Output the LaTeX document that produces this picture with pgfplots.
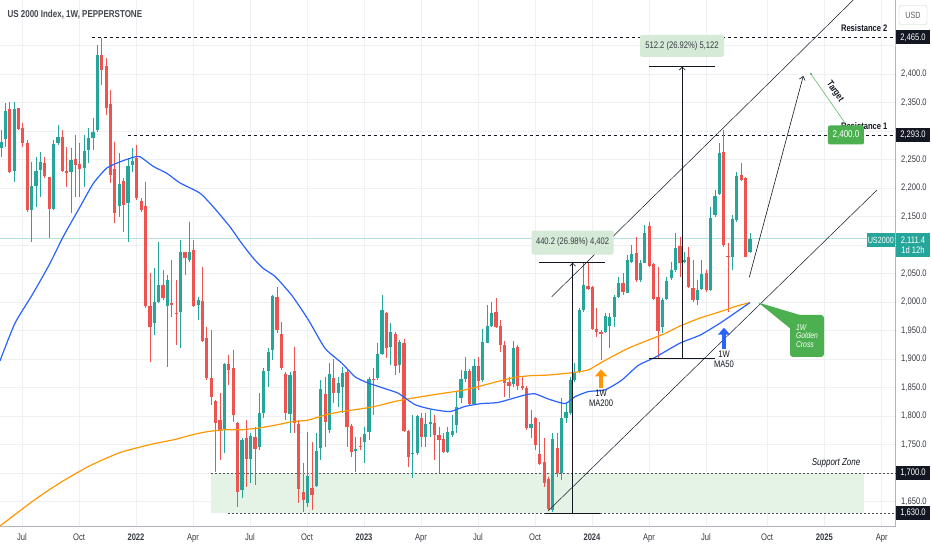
\documentclass[border=0pt]{standalone}
\usepackage{fontspec}
\setmainfont{Liberation Sans}[FakeStretch=0.8]
\usepackage{pgfplots}
\pgfplotsset{compat=1.18}
\usepackage{pgfplotstable}
\usetikzlibrary{arrows.meta}
\definecolor{tvup}{HTML}{26A69A}
\definecolor{tvdn}{HTML}{EF5350}
\definecolor{maf}{HTML}{2962FF}
\definecolor{mas}{HTML}{FF9800}
\definecolor{cgreen}{HTML}{4CAF50}
\definecolor{gridc}{HTML}{EEF0F4}
\definecolor{txt}{HTML}{131722}
\definecolor{zone}{HTML}{E5F3E6}
\definecolor{mbox}{HTML}{D5EAD7}
\definecolor{axc}{HTML}{B2B5BE}

\pgfplotstableread{
i O H L C
0 2269.7 2301.9 2255.1 2281.4
1 2286.1 2348.7 2272.7 2335.2
3 2230.6 2351.6 2211.3 2338.1
7 2161.6 2246.3 2106.0 2204.2
8 2204.2 2255.1 2167.4 2230.0
9 2231.7 2263.9 2185.0 2245.2
12 2163.3 2284.3 2161.6 2277.3
13 2278.5 2310.7 2275.6 2289.0
16 2228.8 2269.7 2155.7 2249.3
19 2234.7 2293.1 2202.5 2265.6
20 2266.8 2304.8 2243.4 2287.3
21 2287.3 2322.4 2266.8 2299.0
22 2301.9 2451.0 2299.0 2433.4
27 2168.6 2261.0 2149.9 2207.2
29 2173.3 2252.2 2106.0 2238.7
30 2240.5 2269.7 2228.8 2247.5
35 1963.9 2059.2 1942.3 2000.8
36 2000.8 2106.0 1997.8 2030.0
38 1993.2 2047.5 1886.8 2038.8
41 1982.0 2108.9 1918.9 2088.5
43 2073.8 2141.1 2070.9 2088.5
45 1994.9 2009.5 1968.6 2003.7
51 1777.4 1892.6 1734.7 1890.8
55 1670.4 1761.0 1655.8 1758.1
57 1724.2 1769.8 1682.1 1765.1
59 1746.4 1840.0 1740.6 1804.9
60 1804.9 1883.8 1796.1 1879.7
61 1879.7 1918.9 1851.7 1911.9
62 1916.0 2012.4 1898.4 2010.7
66 1803.1 1878.0 1769.8 1872.1
70 1647.0 1772.7 1641.2 1694.9
72 1677.4 1769.8 1676.2 1739.4
73 1743.5 1863.3 1723.0 1847.0
75 1775.6 1892.6 1769.8 1873.9
77 1841.1 1869.2 1816.6 1858.7
78 1851.7 1886.7 1804.9 1876.2
81 1739.4 1763.9 1702.6 1741.7
83 1755.2 1781.5 1717.2 1768.6
84 1771.5 1869.2 1758.1 1864.5
86 1866.3 1927.7 1863.4 1909.0
87 1909.0 2012.5 1907.2 1986.2
89 1920.7 1962.8 1889.7 1947.0
91 1889.7 1933.6 1875.1 1930.6
94 1734.8 1802.0 1690.9 1735.9
95 1734.8 1802.0 1731.8 1800.2
97 1764.0 1806.1 1746.5 1786.2
98 1786.2 1810.8 1764.0 1790.3
102 1737.7 1781.5 1734.8 1772.8
103 1766.9 1802.0 1764.0 1774.5
104 1784.5 1842.9 1769.8 1816.6
105 1831.2 1880.9 1822.5 1864.6
106 1864.6 1904.3 1860.5 1879.8
108 1821.3 1899.6 1819.5 1887.9
110 1863.4 1952.3 1860.5 1930.6
111 1928.9 1995.0 1927.7 1958.7
112 1958.7 2000.8 1957.0 1980.3
117 1856.4 1931.8 1850.5 1918.9
121 1778.6 1810.8 1761.1 1786.2
126 1635.4 1769.8 1632.4 1759.3
128 1699.7 1831.2 1688.0 1796.2
129 1796.2 1822.5 1787.4 1807.8
130 1806.1 1869.2 1802.0 1863.4
131 1863.4 1892.6 1860.5 1878.0
132 1878.0 1989.1 1875.1 1986.2
133 1986.2 2068.0 1983.2 2030.0
138 1948.2 1980.3 1945.3 1975.6
139 1958.0 1980.3 1918.9 1973.3
140 1973.3 2012.5 1956.9 2009.6
141 2009.6 2044.6 2006.6 2034.1
143 2016.6 2082.7 2015.4 2073.9
144 2071.0 2100.2 2068.0 2084.4
146 2038.8 2073.9 2035.9 2069.2
147 2069.2 2135.3 2068.0 2120.6
151 1956.9 2006.6 1945.2 2003.7
152 2004.9 2044.6 2003.7 2037.6
153 2041.7 2071.0 2038.8 2056.3
154 2056.3 2121.8 2053.4 2094.3
156 2071.0 2088.4 2068.0 2073.9
159 2003.7 2038.8 1994.9 2021.2
160 2022.4 2073.8 2021.2 2049.3
162 2021.2 2167.4 2020.1 2148.1
163 2152.8 2196.6 2149.8 2186.1
164 2189.6 2278.5 2187.8 2260.9
167 2079.7 2152.8 2056.3 2145.2
168 2144.0 2228.8 2141.1 2221.2
171 2088.4 2120.6 2085.5 2111.4
}\upcandles

\pgfplotstableread{
i O H L C
2 2338.1 2351.6 2225.9 2228.8
4 2339.9 2339.9 2301.9 2303.6
5 2306.0 2313.6 2272.7 2278.5
6 2278.5 2284.3 2158.6 2161.6
10 2244.6 2255.1 2217.1 2221.8
11 2220.0 2220.0 2111.9 2163.3
14 2289.0 2301.9 2228.8 2230.6
15 2230.6 2272.7 2202.5 2227.1
17 2250.4 2293.1 2185.0 2240.5
18 2241.7 2278.5 2185.0 2233.5
23 2433.4 2462.7 2380.8 2407.1
24 2414.2 2427.6 2328.2 2341.1
25 2347.5 2372.1 2208.3 2223.0
26 2232.9 2281.4 2139.3 2156.9
28 2212.4 2217.1 2123.6 2170.3
31 2253.4 2275.6 2179.1 2182.0
32 2177.3 2182.0 2158.0 2161.6
33 2169.2 2211.3 1989.1 1993.2
34 1993.2 2050.5 1895.5 1955.7
37 2030.0 2056.3 2003.7 2006.6
39 1997.8 2073.9 1974.5 1994.9
40 1981.5 2038.8 1924.8 1979.1
42 2087.3 2088.5 2047.5 2076.8
44 2091.4 2108.9 1990.8 1993.1
46 2001.9 2062.1 1930.6 1932.3
47 1936.4 1956.9 1863.3 1866.3
48 1866.3 1951.0 1819.5 1834.1
49 1826.5 1828.3 1702.6 1787.3
50 1793.2 1840.0 1723.0 1773.9
52 1890.8 1907.2 1854.6 1880.9
53 1883.8 1916.0 1790.3 1801.9
54 1788.5 1790.3 1641.2 1667.5
56 1761.0 1793.2 1676.2 1724.2
58 1764.0 1781.5 1679.2 1741.7
63 2008.4 2027.1 1945.2 1951.0
64 1944.0 1965.7 1880.9 1883.8
65 1873.9 1878.0 1793.2 1804.9
67 1879.7 1921.8 1769.8 1787.3
68 1786.2 1793.2 1647.0 1671.6
69 1667.5 1717.2 1632.4 1652.9
71 1673.3 1755.2 1635.3 1661.6
74 1838.8 1869.2 1746.4 1790.3
76 1866.3 1899.6 1822.4 1840.0
79 1878.0 1880.9 1746.4 1781.5
80 1782.7 1786.2 1728.9 1737.6
82 1747.6 1763.9 1740.6 1745.2
85 1865.1 1883.9 1802.0 1863.4
88 1981.5 1983.3 1901.4 1918.9
90 1944.1 1948.2 1872.2 1888.0
92 1928.9 1934.7 1772.8 1774.5
93 1774.5 1775.7 1711.4 1727.7
96 1796.2 1804.9 1746.5 1764.0
99 1787.4 1802.0 1723.1 1766.9
100 1766.9 1781.5 1700.8 1758.1
101 1760.5 1769.8 1734.8 1737.7
107 1879.8 1882.1 1819.5 1821.3
109 1887.9 1904.3 1845.8 1862.2
113 1982.1 2006.6 1954.0 1957.0
114 1958.1 1968.6 1913.1 1924.8
115 1924.8 1932.4 1834.2 1857.5
116 1860.5 1869.2 1831.2 1852.9
118 1921.9 1924.8 1845.8 1852.9
119 1852.9 1869.2 1845.8 1848.8
120 1848.8 1852.9 1775.7 1778.6
122 1796.2 1799.1 1740.6 1749.4
123 1733.6 1790.3 1714.3 1716.0
124 1720.1 1761.1 1676.3 1682.1
125 1689.2 1693.8 1635.4 1636.5
127 1743.5 1769.8 1693.8 1699.7
134 2028.3 2068.0 2021.3 2022.4
135 2025.9 2028.3 1951.1 1952.3
136 1952.3 1989.1 1939.4 1948.2
137 1948.2 1951.1 1898.5 1944.1
142 2034.1 2050.5 2012.5 2018.3
145 2085.6 2114.8 2035.9 2038.8
148 2134.1 2141.1 2062.2 2063.4
149 2066.9 2068.0 2003.7 2004.9
150 2008.4 2062.1 1902.0 1949.9
155 2098.4 2114.8 2044.6 2069.2
157 2079.7 2097.2 2024.1 2027.1
158 2024.1 2073.8 2000.7 2003.7
161 2051.6 2056.3 2018.3 2021.2
165 2263.9 2301.9 2097.2 2100.1
166 2080.8 2103.1 1983.2 2078.5
169 2222.9 2243.4 2213.0 2214.2
170 2217.1 2218.8 2078.5 2079.7
}\dncandles

\pgfplotsset{candle/.style={forget plot, only marks, mark=*, mark size=0pt,
  mark options={draw=none, fill=none}}}

\begin{document}
\begin{tikzpicture}
\path[use as bounding box, fill=white] (0pt,0pt) rectangle (932pt,550pt);
\begin{axis}[
  at={(0pt,24pt)}, anchor=south west, scale only axis,
  width=895.7pt, height=526pt,
  xmin=-0.228, xmax=204.27, ymin=1607.2, ymax=2529.9,
  enlargelimits=false, clip=false, scaled y ticks=false,
  axis x line*=bottom, axis y line*=right,
  axis line style={draw=axc, line width=0.8pt, -},
  xtick={4.79,17.81,30.82,43.84,56.85,69.86,82.88,95.89,108.9,121.92,134.93,147.95,160.96,174.89,187.97,201.07},
  xticklabels={Jul,Oct,\textbf{2022},Apr,Jul,Oct,\textbf{2023},Apr,Jul,Oct,\textbf{2024},Apr,Jul,Oct,\textbf{2025},Apr},
  ytick={1650,1750,1800,1850,1900,1950,2000,2050,2150,2200,2250,2350,2400},
  extra y ticks={1700,2100,2300,2450}, extra y tick labels={},
  extra y tick style={ymajorgrids},
  yticklabel pos=right,
  xmajorgrids, ymajorgrids,
  grid style={draw=gridc, line width=0.7pt},
  tick style={draw=none}, major tick length=0pt,
  xticklabel style={font=\fontsize{9.5}{10}\selectfont, text=txt!85, yshift=-4pt},
  yticklabel style={font=\fontsize{9.5}{10}\selectfont, text=txt!85, anchor=west, xshift=2pt},
  yticklabel={\pgfmathprintnumber[fixed, fixed zerofill, precision=1, 1000 sep={,}, assume math mode=true]{\tick}},
]
% current price line
\draw[tvup!35, line width=0.7pt] (axis cs:-0.228,2111.4) -- (axis cs:204.27,2111.4);
% support zone
\fill[zone] (axis cs:47.88,1630) rectangle (axis cs:197.03,1700);
\draw[txt!75, line width=0.9pt, dash pattern=on 2pt off 2pt] (axis cs:47.88,1700) -- (axis cs:204.27,1700);
\draw[txt!75, line width=0.9pt, dash pattern=on 2pt off 2pt] (axis cs:51.83,1630) -- (axis cs:204.27,1630);
% resistance lines
\draw[txt, line width=0.8pt, dash pattern=on 3pt off 3pt] (axis cs:20.78,2465) -- (axis cs:204.27,2465);
\draw[txt, line width=0.8pt, dash pattern=on 3pt off 3pt] (axis cs:28.93,2293) -- (axis cs:204.27,2293);

% candle wicks
\addplot[candle, error bars/.cd, y dir=minus, y explicit, error mark=none,
  error bar style={line width=0.8pt, draw=tvdn}]
  table[x=i, y=H, y error minus expr={\thisrow{H}-\thisrow{L}}] {\dncandles};
\addplot[candle, error bars/.cd, y dir=minus, y explicit, error mark=none,
  error bar style={line width=0.8pt, draw=tvup}]
  table[x=i, y=H, y error minus expr={\thisrow{H}-\thisrow{L}}] {\upcandles};
% candle bodies
\addplot[candle, error bars/.cd, y dir=minus, y explicit, error mark=none,
  error bar style={line width=3.2pt, draw=tvdn}]
  table[x=i, y=O, y error minus expr={max(\thisrow{O}-\thisrow{C},1.8)}] {\dncandles};
\addplot[candle, error bars/.cd, y dir=minus, y explicit, error mark=none,
  error bar style={line width=3.2pt, draw=tvup}]
  table[x=i, y=C, y error minus expr={max(\thisrow{C}-\thisrow{O},1.8)}] {\upcandles};

% MA200
\addplot[mas, line width=1.2pt, mark=none, smooth, tension=0.35] coordinates {
(-0.228,1607.2) (7.65,1653) (13.47,1683) (20.32,1713) (27.17,1736) (34.02,1750) (39.73,1759)
(43.54,1767) (47.33,1773) (51.14,1776) (54.95,1776) (58.74,1779) (62.56,1784) (66.37,1790)
(70.16,1793) (73.97,1802) (77.79,1808) (81.58,1812) (85.39,1817) (90.71,1827) (98.33,1837)
(105.94,1846) (113.54,1861) (117.35,1868) (121.16,1871) (124.95,1872) (130.30,1876) (134.09,1881)
(136.37,1891) (139.43,1904) (143.22,1919) (147.03,1931) (151.60,1945) (155.02,1958) (159.59,1972)
(164.16,1983) (167.97,1993) (171.00,1999)};
% MA50
\addplot[maf, line width=1.2pt, mark=none, smooth, tension=0.35] coordinates {
(-0.228,1897) (3.20,1963) (7.31,2015) (11.19,2068) (14.22,2115) (18.04,2167) (21.07,2208)
(24.13,2235) (27.17,2246) (30.21,2254) (31.74,2255) (34.77,2238) (37.83,2226) (40.87,2209)
(45.43,2191) (48.47,2167) (52.28,2132) (54.95,2103) (57.60,2077) (59.89,2059) (62.56,2045)
(66.37,2012) (70.16,1969) (73.97,1919) (77.79,1893) (80.82,1869) (83.49,1859) (86.92,1850)
(90.71,1840) (94.52,1820) (98.33,1812) (102.51,1808) (105.94,1817) (109.75,1822) (113.54,1824)
(119.63,1837) (121.92,1839) (124.95,1830) (128.77,1822) (131.05,1834) (134.09,1843) (137.90,1846)
(141.71,1863) (145.50,1889) (149.32,1903) (155.02,1928) (159.59,1942) (164.16,1963) (167.97,1983)
(171.00,1999)};

% channel lines
\draw[txt, line width=0.5pt] (axis cs:125.73,2009.4) -- (axis cs:194.59,2529.9);
\draw[txt, line width=0.5pt] (axis cs:124.89,1633.5) -- (axis cs:200.0,2196.6);

% labels for levels
\node[anchor=east, font=\bfseries\fontsize{9.5}{12}\selectfont, text=txt] at (axis cs:203.2,2481.1) {Resistance 2};
\node[anchor=east, font=\bfseries\fontsize{9.5}{12}\selectfont, text=txt] at (axis cs:203.2,2308.5) {Resistance 1};
\node[anchor=east, font=\itshape\fontsize{10}{12}\selectfont, text=txt] at (axis cs:197.0,1717.7) {Support Zone};

% measurement 1
\draw[txt, line width=0.6pt] (axis cs:122.9,2070.2) -- (axis cs:137.9,2070.2);
\draw[txt, line width=0.6pt] (axis cs:124.2,1630) -- (axis cs:136.8,1630);
\draw[txt, line width=0.6pt, -{Straight Barb[length=3pt,width=6pt]}] (axis cs:130.53,1630) -- (axis cs:130.53,2069);
\node[fill=mbox, rounded corners=2pt, minimum width=82pt, minimum height=24pt, inner sep=1pt,
  text=txt!85, font=\fontsize{9.5}{11}\selectfont] at (axis cs:130.5,2104.5) {440.2 (26.98\%) 4,402};
% measurement 2
\draw[txt, line width=0.6pt] (axis cs:147.95,2414.2) -- (axis cs:163.0,2414.2);
\draw[txt, line width=0.6pt] (axis cs:147.95,1902) -- (axis cs:163.0,1902);
\draw[txt, line width=0.6pt, -{Straight Barb[length=3pt,width=6pt]}] (axis cs:155.55,1902) -- (axis cs:155.55,2413);
\node[fill=mbox, rounded corners=2pt, minimum width=84pt, minimum height=22pt, inner sep=1pt,
  text=txt!85, font=\fontsize{9.5}{11}\selectfont] at (axis cs:155.48,2449.6) {512.2 (26.92\%) 5,122};

% MA200 arrow
\draw[mas, line width=4.5pt, -{Triangle[length=7pt,width=12pt]}] (axis cs:137.0,1849) -- (axis cs:137.0,1882);
\node[font=\fontsize{9.5}{10}\selectfont, text=txt] at (axis cs:137.0,1840.5) {1W};
\node[font=\fontsize{9.5}{10}\selectfont, text=txt] at (axis cs:137.0,1823.0) {MA200};
% MA50 arrow
\draw[maf, line width=4.5pt, -{Triangle[length=7pt,width=12pt]}] (axis cs:165.07,1917) -- (axis cs:165.07,1955);
\node[font=\fontsize{9.5}{10}\selectfont, text=txt] at (axis cs:165.07,1908.9) {1W};
\node[font=\fontsize{9.5}{10}\selectfont, text=txt] at (axis cs:165.07,1891.4) {MA50};

% golden cross callout
\fill[cgreen] (axis cs:172.9,1999.1) -- (axis cs:182.42,1977.3) -- (axis cs:180.14,1954.0) -- cycle;
\node[fill=cgreen, rounded corners=3pt, minimum width=34pt, minimum height=42pt, inner sep=1pt,
  text=white, align=left, font=\itshape\fontsize{8.5}{8.7}\selectfont] at (axis cs:184.02,1940.5) {1W\\Golden\\Cross};

% projection arrow
\draw[txt, line width=0.6pt, -{Straight Barb[length=3.5pt,width=6pt]}] (axis cs:170.84,2043.5) -- (axis cs:183.17,2396.6);
% target
\draw[cgreen!85, line width=0.6pt] (axis cs:184.93,2400.1) -- (axis cs:192.69,2314.1);
\fill[cgreen] (axis cs:184.93,2400.1) circle (1.2pt);
\node[rotate=-55.2, font=\bfseries\fontsize{9.5}{11}\selectfont, text=txt] at (axis cs:190.4,2369.0) {Target};
\node[fill=cgreen, rounded corners=2pt, minimum width=36pt, minimum height=19pt, inner sep=1pt,
  text=white, font=\fontsize{10}{11}\selectfont] at (axis cs:192.92,2293.1) {2,400.0};
\end{axis}

% title and price-scale labels
\node[anchor=west, font=\bfseries\fontsize{10}{12}\selectfont, text=txt!80] at (4pt,535.5pt) {US 2000 Index, 1W, PEPPERSTONE};
\node[draw=axc!70, fill=white, rounded corners=2pt, minimum width=28pt, minimum height=19pt, inner sep=1pt,
  font=\fontsize{9}{10}\selectfont, text=txt!70] at (913pt,535pt) {USD};
\foreach \yy/\lab in {512.5/{2,465.0}, 415.4/{2,293.0}, 77/{1,700.0}, 37/{1,630.0}} {
  \node[fill=txt, text=white, minimum width=34pt, minimum height=14pt, inner sep=0pt,
    font=\fontsize{9.5}{10}\selectfont] at (913pt,\yy pt) {\lab};
}
\node[fill=tvup, text=white, minimum width=34pt, minimum height=24pt, inner sep=0pt, align=center,
  font=\fontsize{9.5}{9.5}\selectfont] at (913pt,305pt) {2,111.4\\1d 12h};
\node[fill=tvup, text=white, minimum width=28pt, minimum height=13.5pt, inner sep=1pt,
  font=\fontsize{9}{10}\selectfont] at (880.8pt,310pt) {US2000};
\end{tikzpicture}
\end{document}
